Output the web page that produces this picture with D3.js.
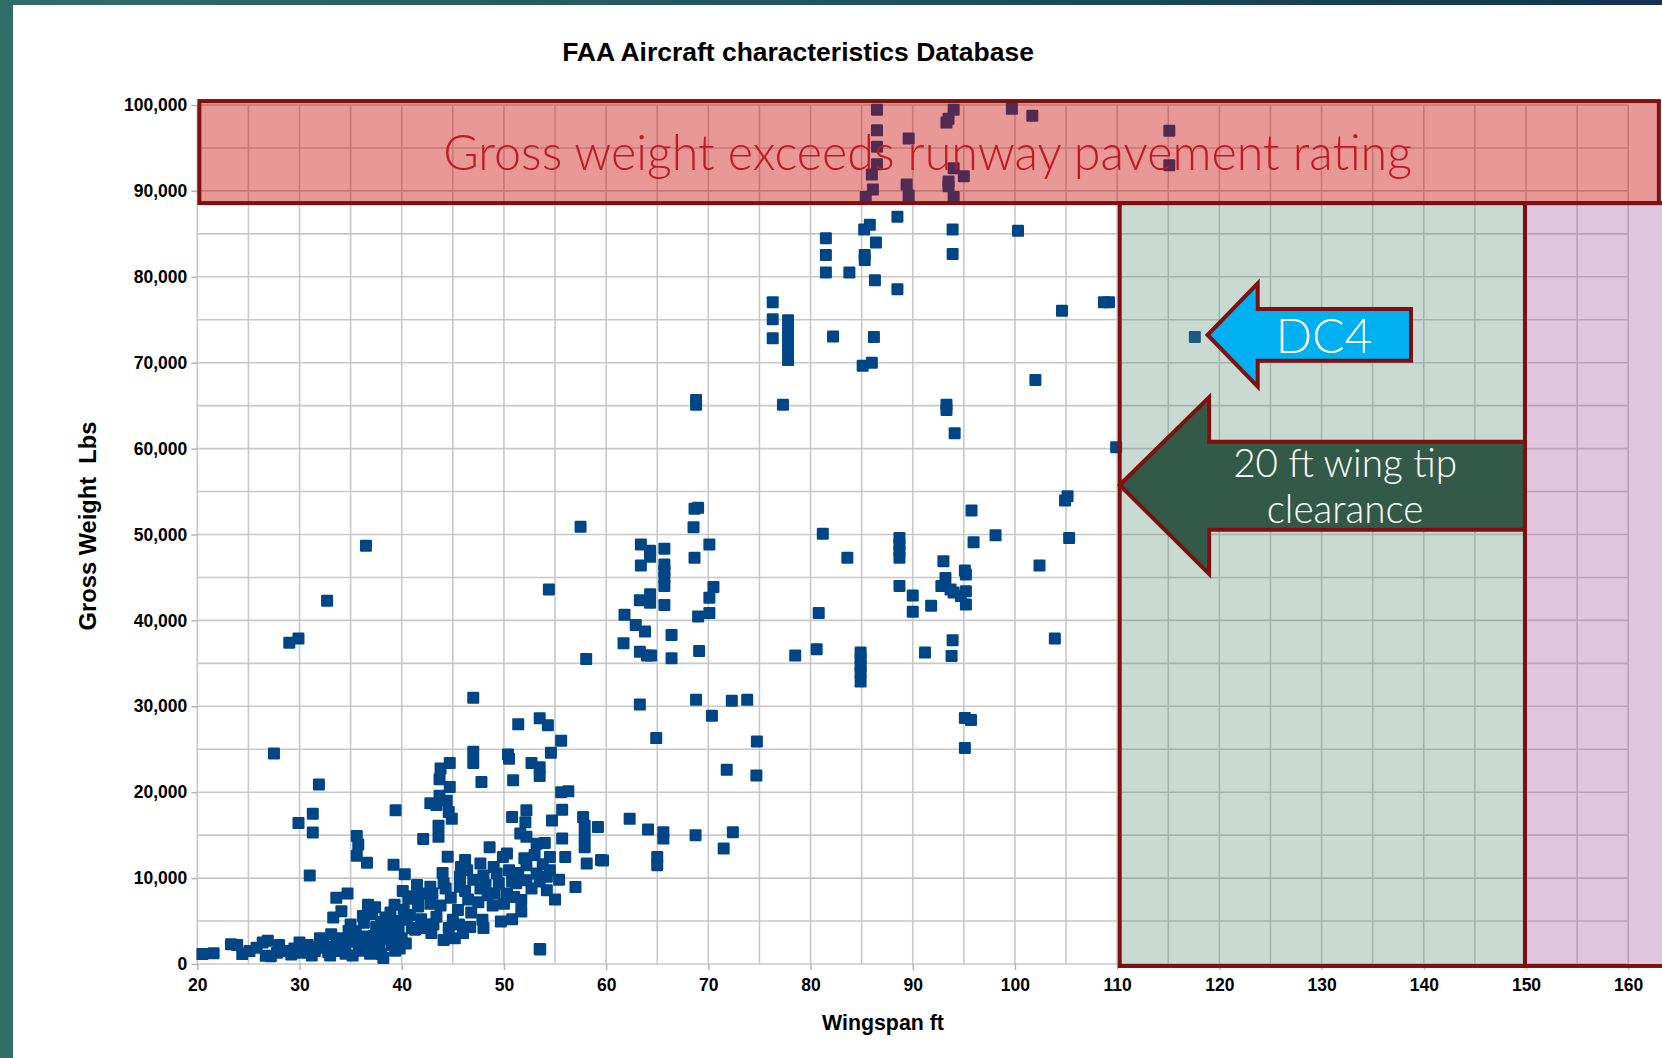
<!DOCTYPE html>
<html>
<head>
<meta charset="utf-8">
<script src="https://cdn.jsdelivr.net/npm/d3@7"></script>
<style>
  body { margin: 0; background: #fff; }
  svg { display: block; }
  .axis text { font-family: "Liberation Sans", Arial, sans-serif; font-weight: bold; font-size: 17.5px; fill: #000; }
  .axis line { stroke: #b4b4b4; stroke-width: 1.5; }
  .axis path { display: none; }
</style>
</head>
<body>
<div id="chart"></div>
<script>
// wingspan (ft) and gross weight (lbs)
var wingspanFt = [
  20.5,21.6,23.3,23.9,24.4,25.1,25.8,26.4,26.9,26.7,27.2,27.8,28.6,29.2,30.0,30.3,31.0,31.8,32.3,32.8,
  33.1,33.6,34.0,34.5,32.0,31.2,29.5,28.0,33.3,34.1,33.6,34.7,34.8,35.3,35.8,36.1,36.5,36.7,37.1,37.5,
  37.8,38.0,38.4,38.6,39.0,39.3,39.35,39.7,40.0,35.0,35.5,36.0,37.0,38.2,36.3,35.2,37.3,38.8,36.9,
  30.8,31.5,32.5,33.0,33.8,34.3,34.9,35.6,36.6,37.6,38.4,39.2,39.8,40.4,36.2,37.4,38.0,38.9,39.6,40.2,
  40.8,41.9,42.4,43.1,44.6,45.6,46.8,47.5,48.4,49.5,50.8,52.7,53.5,52.0,53.0,48.0,49.0,46.2,44.3,42.3,
  41.2,40.1,45.2,46.7,48.0,50.0,51.4,53.8,55.4,50.8,
  29.9,31.3,31.3,31.0,31.9,29.0,29.9,32.7,36.5,27.5,35.6,35.75,35.6,36.6,39.4,39.2,40.3,42.1,40.65,41.6,41.0,42.0,
  42.8,43.4,43.8,44.7,43.7,44.7,43.7,44.4,44.6,44.9,43.6,43.6,44.5,46.2,47.7,46.4,45.7,47.7,48.6,50.3,
  49.9,49.3,49.1,50.3,51.2,52.2,52.2,51.7,51.7,53.2,54.2,49.7,47.9,46.0,44.1,53.5,42.8,44.1,41.6,40.5,
  41.3,42.9,43.4,45.0,42.8,43.8,44.8,45.5,46.5,47.0,48.2,48.9,50.5,51.0,45.8,43.0,41.5,45.7,44.0,
  47.0,51.4,53.5,54.3,55.6,47.0,47.0,50.4,50.5,52.7,53.5,53.5,54.6,50.9,47.8,55.6,56.3,55.7,54.7,50.8,
  52.2,52.1,51.6,52.2,53.2,54.0,55.7,57.75,57.9,59.2,57.9,57.9,58.1,59.5,62.3,56.0,54.5,54.5,57.0,55.0,
  54.2,53.55,57.5,54.4,58.05,
  68.65,69.0,68.55,63.4,64.3,64.3,65.7,70.1,68.65,63.4,65.7,65.7,65.7,65.7,70.5,70.1,63.3,64.3,64.3,65.7,
  61.8,69.0,70.1,62.9,63.8,66.4,61.7,63.3,64.0,64.4,66.4,69.1,78.5,80.6,80.8,81.2,63.3,68.8,72.3,73.8,
  70.35,64.9,74.75,71.8,74.7,64.1,65.6,65.6,68.75,72.4,71.5,65.0,65.0,59.7,
  105.15,104.9,95.75,98.1,95.95,105.3,88.7,88.7,88.7,88.7,83.6,93.0,95.1,95.2,102.4,93.2,92.8,88.7,90.0,93.7,
  94.0,94.7,95.2,95.2,91.8,90.0,93.9,91.2,93.8,103.9,84.9,84.9,84.9,84.9,84.9,95.1,95.7,95.1,
  88.5,85.8,85.25,81.5,81.5,81.5,86.4,85.3,85.3,83.8,86.3,88.5,93.9,93.9,100.3,104.6,108.7,109.2,86.2,85.1,
  86.0,102.0,93.3,93.3,94.1,109.9,117.6,76.3,76.3,76.3,77.8,77.8,77.8,77.8,77.8,82.2,68.8,68.8,77.3,
  86.5,86.5,86.5,86.5,86.0,86.1,85.4,89.6,89.4,89.6,94.0,93.5,93.3,94.0,95.0,93.5,93.5,94.0,99.7,101.7,
  115.1,115.1
];
var grossWeightLbs = [
  1150,1250,2300,2200,1150,1500,1900,2500,2700,950,900,1300,1500,1100,2500,1300,1900,1900,2800,1400,
  3450,2300,1500,1200,3000,1000,1800,2200,5400,6150,7700,8200,3850,2600,1700,1550,3200,6900,5800,4300,
  2500,1150,5400,3600,2200,6900,1550,4000,3000,4600,3800,2400,1900,700,4800,1000,3300,4700,1200,
  2200,1500,2000,1000,3000,2000,2900,3200,2100,1500,2900,3400,1800,2400,5600,6600,4900,6000,5000,6300,
  5700,5200,4600,4600,4200,4600,6000,7200,8000,9400,9600,8800,9600,12300,12700,10300,11300,8500,8800,8200,
  7900,8500,3000,4300,4200,7000,10600,11600,9800,5200,
  16400,17500,15300,10300,20900,37400,37900,42300,48700,24500,14900,13900,12600,11800,17900,11550,10450,14550,7600,7300,4200,4200,
  18700,18500,22750,23400,21500,20600,19600,19000,17700,16900,16100,14800,12500,12100,11700,10900,9000,8800,13600,12850,
  12450,10550,8200,8200,9400,11500,9750,7450,6100,10550,10150,4950,5150,3600,2800,1750,9000,9400,6700,5150,
  4000,3600,5500,5150,7000,6800,7700,6300,7500,9800,9200,6800,10900,7800,11300,8200,9200,10200,10600,
  31000,27900,28600,27800,26000,24700,23400,24400,23900,23400,22900,21900,24600,21400,21200,20000,20100,17950,16700,17100,
  17900,16500,15200,14800,14000,14100,14600,17100,16100,15950,14800,13600,11700,12100,16900,12450,12450,10900,8950,7500,
  8600,1700,50900,43600,35500,
  53000,53100,50850,48850,48100,47400,48350,48850,47300,46400,46500,45750,45000,44000,43900,42650,42350,43050,42050,41800,
  40650,40450,40850,39450,38700,38300,37350,36350,35900,35900,35600,36450,35900,36650,40850,50100,30200,30750,30650,30750,
  28900,26300,25900,22600,21950,15650,15350,14600,15000,15350,13450,12450,11500,12050,
  54450,53950,52800,49900,49100,49600,49600,48850,48050,47300,47300,46900,45800,45350,46400,44950,44000,44000,42900,43600,
  43250,42850,43400,41850,41700,41000,37700,36250,35850,37900,36250,35500,34700,33950,32900,28650,28400,25150,
  87000,86050,85500,84500,82550,80500,84000,82550,81950,80500,79600,78550,85500,82650,85350,76050,77050,77050,73000,69650,
  70000,68000,65100,64500,61800,60150,73000,77050,75050,72850,74950,73800,72650,71500,70300,73050,65650,65100,65100,
  99450,97050,95150,93100,91900,90150,89300,96100,90750,89450,99450,98400,97950,92650,91700,91100,90550,89300,99550,98750,
  97000,93000
];

var xTicks = [20, 30, 40, 50, 60, 70, 80, 90, 100, 110, 120, 130, 140, 150, 160];
var yTicks = [0, 10000, 20000, 30000, 40000, 50000, 60000, 70000, 80000, 90000, 100000];

// shaded zones and arrows, in chart units (ft, lbs)
var pavementZone = [20.2, 163.0, 88580, 100460];
var clearanceZone = [110.25, 149.9, -230, 88580];
var beyondZone = [149.9, 172, -230, 88580];
var dc4Arrow = [[118.85,73225],[123.75,79240],[123.75,76250],[138.75,76250],[138.75,70230],[123.75,70230],[123.75,67210]];
var clearanceArrow = [[110.25,55760],[119,65970],[119,60800],[149.9,60800],[149.9,50550],[119,50550],[119,45400]];

var width = 1662;
var height = 1058;

var x = d3.scaleLinear().domain([20, 160]).range([197.3, 1628.2]);
var y = d3.scaleLinear().domain([0, 100000]).range([964, 105]);

var svg = d3.select('#chart').append('svg')
  .attr('width', width)
  .attr('height', height);

var defs = svg.append('defs');
var grad = defs.append('linearGradient')
  .attr('id', 'frame')
  .attr('x1', '0%').attr('y1', '0%')
  .attr('x2', '100%').attr('y2', '0%');
grad.append('stop').attr('offset', '0%').attr('stop-color', '#2f6e68');
grad.append('stop').attr('offset', '55%').attr('stop-color', '#21505a');
grad.append('stop').attr('offset', '100%').attr('stop-color', '#12344d');

svg.append('rect').attr('width', width).attr('height', height).attr('fill', 'url(#frame)');
svg.append('rect').attr('x', 13).attr('y', 5).attr('width', width - 13).attr('height', height - 5).attr('fill', '#fff');

// grid every 5 ft / 5000 lbs
var grid = svg.append('g');
grid.selectAll('line.v')
  .data(d3.range(20, 161, 5))
  .enter().append('line')
  .attr('x1', function(d) { return x(d); })
  .attr('x2', function(d) { return x(d); })
  .attr('y1', y(0))
  .attr('y2', y(100000))
  .attr('stroke', '#c8c8c8')
  .attr('stroke-width', 1.6);
grid.selectAll('line.h')
  .data(d3.range(0, 100001, 5000))
  .enter().append('line')
  .attr('x1', x(20))
  .attr('x2', x(160))
  .attr('y1', function(d) { return y(d); })
  .attr('y2', function(d) { return y(d); })
  .attr('stroke', '#c8c8c8')
  .attr('stroke-width', 1.6);

svg.append('g')
  .attr('class', 'axis')
  .attr('transform', 'translate(' + x(20) + ',0)')
  .call(d3.axisLeft(y).tickValues(yTicks).tickFormat(d3.format(',')).tickSize(6).tickPadding(4));

svg.append('g')
  .attr('class', 'axis')
  .attr('transform', 'translate(0,' + y(0) + ')')
  .call(d3.axisBottom(x).tickValues(xTicks).tickSize(6).tickPadding(9));

// points
var n = Math.min(wingspanFt.length, grossWeightLbs.length);
var pts = d3.range(n).map(function(i) {
  return {span: wingspanFt[i], weight: grossWeightLbs[i]};
});
var sq = 12;
svg.append('g').selectAll('rect')
  .data(pts)
  .enter().append('rect')
  .attr('x', function(d) { return x(d.span) - sq / 2; })
  .attr('y', function(d) { return y(d.weight) - sq / 2; })
  .attr('width', sq)
  .attr('height', sq)
  .attr('rx', 1.2)
  .attr('fill', '#004586');

function zone(z, fill, opacity) {
  svg.append('rect')
    .attr('x', x(z[0]))
    .attr('y', y(z[3]))
    .attr('width', x(z[1]) - x(z[0]))
    .attr('height', y(z[2]) - y(z[3]))
    .attr('fill', fill)
    .attr('fill-opacity', opacity)
    .attr('stroke', '#7f1010')
    .attr('stroke-width', 4);
}
zone(beyondZone, '#a9569f', 0.35);
zone(clearanceZone, '#568b72', 0.32);
zone(pavementZone, '#c90406', 0.41);

var poly = d3.line()
  .x(function(d) { return x(d[0]); })
  .y(function(d) { return y(d[1]); });

svg.append('path')
  .attr('d', poly(clearanceArrow) + 'Z')
  .attr('fill', '#335a48')
  .attr('stroke', '#7f1010')
  .attr('stroke-width', 4);

svg.append('path')
  .attr('d', poly(dc4Arrow) + 'Z')
  .attr('fill', '#00b0f0')
  .attr('stroke', '#7f1010')
  .attr('stroke-width', 4);

function fitWidth(sel, target) {
  var w = sel.node().getComputedTextLength();
  var fs = parseFloat(sel.attr('font-size'));
  sel.attr('font-size', fs * target / w);
  return fs * target / w;
}

var thin = 'Lato, "Open Sans", sans-serif';

var zoneText = svg.append('text')
  .attr('x', x(91.45))
  .attr('y', y(92420))
  .attr('text-anchor', 'middle')
  .attr('font-family', thin)
  .attr('font-weight', 300)
  .attr('font-size', 43)
  .attr('fill', '#c21a1e')
  .text('Gross weight exceeds runway pavement rating');
fitWidth(zoneText, 969);

var dc4Text = svg.append('text')
  .attr('x', x(130.25))
  .attr('y', y(71120))
  .attr('text-anchor', 'middle')
  .attr('font-family', thin)
  .attr('font-weight', 300)
  .attr('font-size', 48)
  .attr('fill', '#fff')
  .text('DC4');
fitWidth(dc4Text, 97);

var clr1 = svg.append('text')
  .attr('x', x(132.3))
  .attr('y', y(56720))
  .attr('text-anchor', 'middle')
  .attr('font-family', thin)
  .attr('font-weight', 300)
  .attr('font-size', 35)
  .attr('fill', '#fff')
  .text('20 ft wing tip');
var clrSize = fitWidth(clr1, 224);
svg.append('text')
  .attr('x', x(132.3))
  .attr('y', y(51330))
  .attr('text-anchor', 'middle')
  .attr('font-family', thin)
  .attr('font-weight', 300)
  .attr('font-size', clrSize)
  .attr('fill', '#fff')
  .text('clearance');

var bold = '"Liberation Sans", Arial, sans-serif';

var title = svg.append('text')
  .attr('x', 798)
  .attr('y', 61)
  .attr('text-anchor', 'middle')
  .attr('font-family', bold)
  .attr('font-weight', 'bold')
  .attr('font-size', 24)
  .text('FAA Aircraft characteristics Database');
fitWidth(title, 472);

var xTitle = svg.append('text')
  .attr('x', 883)
  .attr('y', 1030)
  .attr('text-anchor', 'middle')
  .attr('font-family', bold)
  .attr('font-weight', 'bold')
  .attr('font-size', 21)
  .text('Wingspan ft');
fitWidth(xTitle, 122);

var yTitle = svg.append('text')
  .attr('transform', 'translate(96,526) rotate(-90)')
  .attr('text-anchor', 'middle')
  .attr('font-family', bold)
  .attr('font-weight', 'bold')
  .attr('font-size', 22)
  .style('white-space', 'pre')
  .text('Gross Weight  Lbs');
fitWidth(yTitle, 209);
</script>
</body>
</html>
